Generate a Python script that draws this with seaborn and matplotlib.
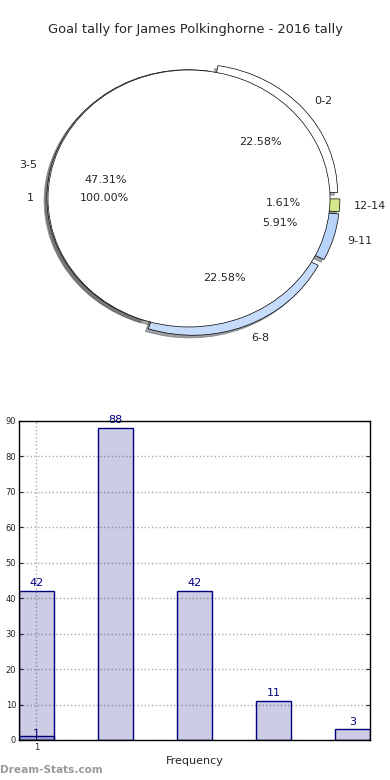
import numpy as np
import pandas as pd
import matplotlib
matplotlib.use("Agg")
import matplotlib.pyplot as plt
import seaborn as sns

# data
tally_labels = ['0-2', '12-14', '9-11', '6-8', '3-5']
tally_counts = [42, 3, 11, 42, 88]
tally_colors = ['#ffffff', '#d5e88c', '#b8d4fa', '#c6dafa', '#ffffff']
inner_labels = ['1']
inner_counts = [1]

bar_x = [1, 2, 3, 4, 5]
bar_vals = [42, 88, 42, 11, 3]
small_x = [1]
small_vals = [1]

sns.set_style("white")
plt.rcParams['font.family'] = ['DejaVu Sans']

fig = plt.figure(figsize=(3.9, 7.8), dpi=100)

# pie part
ax1 = fig.add_axes([0.0146, 0.5314, 0.94, 0.4283])
ax1.pie(tally_counts, labels=tally_labels, colors=tally_colors,
        explode=[0.07, 0.07, 0.07, 0.07, 0.008], startangle=81.3,
        counterclock=False, autopct='%1.2f%%', pctdistance=0.6,
        labeldistance=1.1, shadow={'ox': -0.015, 'oy': -0.015},
        wedgeprops={'edgecolor': 'black', 'linewidth': 0.5},
        textprops={'fontsize': 8})
ax1.pie(inner_counts, labels=inner_labels, colors=['white'], startangle=0,
        counterclock=False, autopct='%1.2f%%', pctdistance=0.6,
        labeldistance=1.1, shadow={'ox': -0.015, 'oy': -0.015}, radius=1.0,
        wedgeprops={'edgecolor': 'black', 'linewidth': 0.5},
        textprops={'fontsize': 8})
ax1.set_aspect('auto')
ax1.set_xlim(-1.3, 1.3)
ax1.set_ylim(-1.3, 1.3)

fig.text(0.5, 1 - 30 / 780, 'Goal tally for James Polkinghorne - 2016 tally',
         ha='center', va='center', fontsize=9.4)

# bar part
ax2 = fig.add_axes([0.0487, 0.0513, 0.9, 0.409])
df = pd.DataFrame({'x': bar_x, 'y': bar_vals})
sns.barplot(data=df, x='x', y='y', native_scale=True, width=0.44, ax=ax2)
df2 = pd.DataFrame({'x': small_x, 'y': small_vals})
sns.barplot(data=df2, x='x', y='y', native_scale=True, width=0.44, ax=ax2)
for p in ax2.patches:
    p.set_facecolor((0, 0, 0.5, 0.2))
    p.set_edgecolor('navy')
    p.set_linewidth(1)

for xv, yv in list(zip(bar_x, bar_vals)) + list(zip(small_x, small_vals)):
    off = 0.8 if yv > 1 else -0.8
    ax2.text(xv, yv + off, str(yv), ha='center', va='bottom', color='navy',
             fontsize=8, clip_on=False)

ax2.set_xlim(1 - 0.22, 5 + 0.22)
ax2.set_ylim(0, 90)
ax2.set_yticks(range(0, 91, 10))
ax2.set_xticks([1])
ax2.set_xticklabels(['1'])
ax2.grid(True, linestyle=':', color='#aaaaaa', linewidth=1)
ax2.set_axisbelow(True)
ax2.tick_params(axis='both', labelsize=6, direction='in', length=3,
                right=True, top=False, left=True, bottom=True, pad=2)
for s in ax2.spines.values():
    s.set_color('black')
    s.set_linewidth(1)
ax2.set_xlabel('Frequency', fontsize=8, labelpad=3)
ax2.set_ylabel('')

fig.text(0.0, 1 - 770 / 780, 'Dream-Stats.com', ha='left', va='center',
         color='#9a9a9a', fontsize=7.6, fontweight='bold')

fig.savefig('out.png', dpi=100)
